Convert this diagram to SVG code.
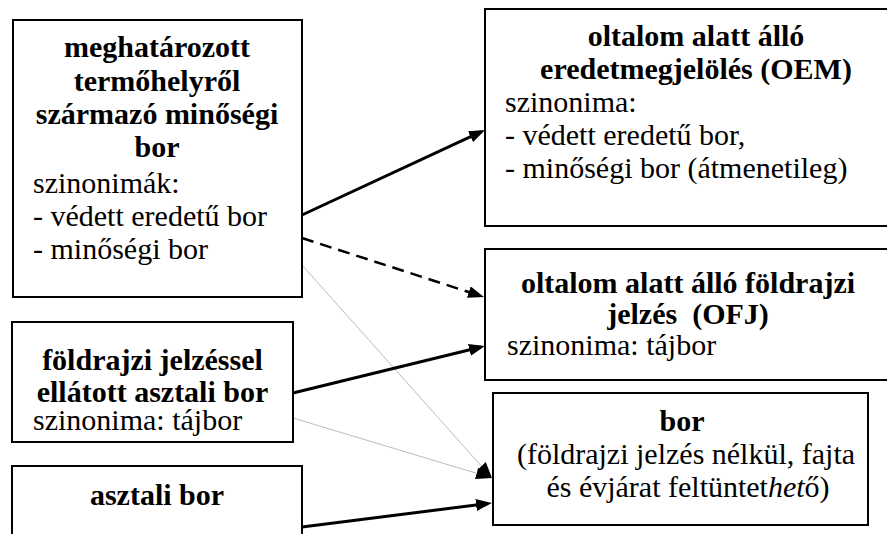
<svg xmlns="http://www.w3.org/2000/svg" width="887" height="534" viewBox="0 0 887 534">
<defs>
<marker id="ah" markerUnits="userSpaceOnUse" markerWidth="16" markerHeight="12" refX="12" refY="6" orient="auto">
<path d="M0,0 L16,6 L0,12 z" fill="#000"/>
</marker>
</defs>
<rect width="887" height="534" fill="#fff"/>
<g id="connectors" fill="none">
<line stroke="#aaa" stroke-width="0.8" x1="302" y1="265" x2="489.3" y2="475" marker-end="url(#ah)"/>
<line stroke="#aaa" stroke-width="0.8" x1="293" y1="418" x2="488.2" y2="476.8" marker-end="url(#ah)"/>
<line stroke="#000" stroke-width="3" x1="302" y1="215" x2="481.4" y2="131.7" marker-end="url(#ah)"/>
<line stroke="#000" stroke-width="2.5" stroke-dasharray="12 7" x1="302" y1="238" x2="480.2" y2="295.8" marker-end="url(#ah)"/>
<line stroke="#000" stroke-width="3" x1="293" y1="393" x2="481.1" y2="347" marker-end="url(#ah)"/>
<line stroke="#000" stroke-width="3" x1="302" y1="527" x2="488" y2="503.5" marker-end="url(#ah)"/>
</g>
<g id="node-minosegi">
<rect fill="#fff" stroke="#000" stroke-width="2" x="13" y="20" width="289" height="277"/>
<text font-family="Liberation Serif" font-size="30" font-weight="bold" text-anchor="middle" x="157" y="57">meghatározott</text>
<text font-family="Liberation Serif" font-size="30" font-weight="bold" text-anchor="middle" x="157" y="91">termőhelyről</text>
<text font-family="Liberation Serif" font-size="30" font-weight="bold" text-anchor="middle" x="157" y="124">származó minőségi</text>
<text font-family="Liberation Serif" font-size="30" font-weight="bold" text-anchor="middle" x="157" y="157">bor</text>
<text font-family="Liberation Serif" font-size="30" x="33" y="193">szinonimák:</text>
<text font-family="Liberation Serif" font-size="30" x="33" y="226">- védett eredetű bor</text>
<text font-family="Liberation Serif" font-size="30" x="33" y="259">- minőségi bor</text>
</g>
<g id="node-oem">
<rect fill="#fff" stroke="#000" stroke-width="2" x="485" y="9" width="430" height="217"/>
<text font-family="Liberation Serif" font-size="30" font-weight="bold" text-anchor="middle" x="696" y="46">oltalom alatt álló</text>
<text font-family="Liberation Serif" font-size="30" font-weight="bold" text-anchor="middle" x="696" y="79">eredetmegjelölés (OEM)</text>
<text font-family="Liberation Serif" font-size="30" x="505" y="112">szinonima:</text>
<text font-family="Liberation Serif" font-size="30" x="505" y="145">- védett eredetű bor,</text>
<text font-family="Liberation Serif" font-size="30" x="505" y="178">- minőségi bor (átmenetileg)</text>
</g>
<g id="node-ofj">
<rect fill="#fff" stroke="#000" stroke-width="2" x="485" y="249" width="430" height="131"/>
<text font-family="Liberation Serif" font-size="30" font-weight="bold" text-anchor="middle" x="688" y="293">oltalom alatt álló földrajzi</text>
<text font-family="Liberation Serif" font-size="30" font-weight="bold" text-anchor="middle" x="688" y="324">jelzés&#160; (OFJ)</text>
<text font-family="Liberation Serif" font-size="30" x="507" y="355">szinonima: tájbor</text>
</g>
<g id="node-bor">
<rect fill="#fff" stroke="#000" stroke-width="2" x="493" y="393" width="375" height="132"/>
<text font-family="Liberation Serif" font-size="30" font-weight="bold" text-anchor="middle" x="682" y="431">bor</text>
<text font-family="Liberation Serif" font-size="30" text-anchor="middle" x="686" y="464">(földrajzi jelzés nélkül, fajta</text>
<text font-family="Liberation Serif" font-size="30" text-anchor="middle" x="688" y="497">és évjárat feltüntet<tspan font-style="italic">het</tspan>ő)</text>
</g>
<g id="node-foldrajzi">
<rect fill="#fff" stroke="#000" stroke-width="2" x="12" y="322" width="281" height="120"/>
<text font-family="Liberation Serif" font-size="30" font-weight="bold" text-anchor="middle" x="152.5" y="370">földrajzi jelzéssel</text>
<text font-family="Liberation Serif" font-size="30" font-weight="bold" text-anchor="middle" x="152.5" y="402">ellátott asztali bor</text>
<text font-family="Liberation Serif" font-size="30" x="33" y="430">szinonima: tájbor</text>
</g>
<g id="node-asztali">
<rect fill="#fff" stroke="#000" stroke-width="2" x="12" y="466" width="290" height="100"/>
<text font-family="Liberation Serif" font-size="30" font-weight="bold" text-anchor="middle" x="157" y="505">asztali bor</text>
</g>
</svg>
